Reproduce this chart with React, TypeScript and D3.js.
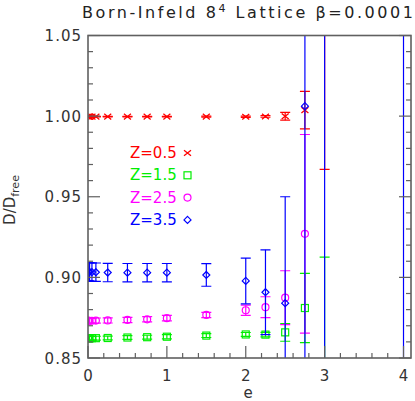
import React from 'react';
import * as d3 from 'd3';

// e values and D/Dfree per Z (null = not drawn)
const eVals = [0, 0.01, 0.02, 0.05, 0.1, 0.25, 0.5, 0.75, 1, 1.5, 2, 2.25, 2.5, 2.75, 3, 4];

const z05 = [0.9997, 0.9997, 0.9997, 0.9997, 0.9997, 0.9997, 0.9997, 0.9997, 0.9997, 0.9997, 0.9996, 0.9998, 0.9999, 1.0037, 1.08, null];
const z05err = [0.0002, 0.0002, 0.0002, 0.0002, 0.0002, 0.0002, 0.0002, 0.0002, 0.0002, 0.0003, 0.0004, 0.0005, 0.0024, 0.0116, 0.113, null];

const z15 = [0.8622, 0.8622, 0.8622, 0.8623, 0.8623, 0.8624, 0.8627, 0.8629, 0.8632, 0.8639, 0.8646, 0.8645, 0.8659, 0.8810, 0.83, null];
const z15err = [0.0012, 0.0012, 0.0012, 0.0012, 0.0012, 0.0012, 0.0012, 0.0012, 0.0013, 0.0012, 0.0012, 0.0014, 0.0055, 0.0215, 0.0826, null];

const z25 = [0.8731, 0.8731, 0.8731, 0.8731, 0.8732, 0.8733, 0.8736, 0.8740, 0.8747, 0.8767, 0.8796, 0.8815, 0.8874, 0.9270, null, null];
const z25err = [0.0016, 0.0016, 0.0016, 0.0016, 0.0016, 0.0016, 0.0016, 0.0016, 0.0017, 0.0016, 0.0032, 0.0065, 0.0167, 0.0616, null, null];

const z35 = [0.9035, 0.9035, 0.9034, 0.9033, 0.9032, 0.9030, 0.9029, 0.9029, 0.9029, 0.9015, 0.8978, 0.8908, 0.8840, 1.0062, 0.80, 0.75];
const z35err = [0.0057, 0.0057, 0.0057, 0.0057, 0.0057, 0.0057, 0.0057, 0.0057, 0.0057, 0.0070, 0.0142, 0.0263, 0.0660, 0.30, 0.40, 0.60];

const zLabels = ['Z=0.5', 'Z=1.5', 'Z=2.5', 'Z=3.5'];
const zColors = ['#ff0000', '#00ee00', '#ff00ff', '#0000ff'];
const zMarkers = ['cross', 'square', 'circle', 'diamond'];

const yTicks = [0.85, 0.9, 0.95, 1.0, 1.05];
const xTicks = [0, 1, 2, 3, 4];

const W = 415;
const H = 401;
const margin = { top: 35.5, right: 4, bottom: 43, left: 88 };

function Marker({ kind, x, y, color }: { kind: string; x: number; y: number; color: string }) {
  const s = 3.5;
  if (kind === 'cross') {
    return (
      <path d={`M${x - s},${y - s * 0.8}L${x + s},${y + s * 0.8}M${x - s},${y + s * 0.8}L${x + s},${y - s * 0.8}`}
            stroke={color} strokeWidth={1.3} fill="none" />
    );
  }
  if (kind === 'square') {
    return <rect x={x - s} y={y - s} width={2 * s} height={2 * s} stroke={color} strokeWidth={1.2} fill="none" />;
  }
  if (kind === 'circle') {
    return <circle cx={x} cy={y} r={s} stroke={color} strokeWidth={1.2} fill="none" />;
  }
  return (
    <path d={`M${x},${y - s}L${x + s},${y}L${x},${y + s}L${x - s},${y}Z`}
          stroke={color} strokeWidth={1.2} fill="none" />
  );
}

export default function App() {
  const x = d3.scaleLinear().domain([0, 4.095]).range([margin.left, W - margin.right]);
  const y = d3.scaleLinear().domain([0.85, 1.05]).range([H - margin.bottom, margin.top]);

  const x0 = x.range()[0], x1 = x.range()[1];
  const y0 = y.range()[0], y1 = y.range()[1];

  const series = [
    { v: z05, err: z05err },
    { v: z15, err: z15err },
    { v: z25, err: z25err },
    { v: z35, err: z35err },
  ];

  const xMinor = d3.range(0, 4.09, 0.2);
  const yMinor = d3.range(0.85, 1.0501, 0.01);
  const font = '"DejaVu Sans", sans-serif';
  const axisColor = '#606060';
  const capW = 5;

  return (
    <svg width={W} height={H} style={{ position: 'absolute', left: 0, top: 0, background: '#fff' }}>
      <defs>
        <clipPath id="plot">
          <rect x={x0} y={y1} width={x1 - x0} height={y0 - y1} />
        </clipPath>
      </defs>

      {/* title */}
      <text x={82} y={18} fontFamily={font} fontSize={16} fill="#222" textLength={331} lengthAdjust="spacing">
        Born-Infeld 8<tspan dy={-6} fontSize={11}>4</tspan><tspan dy={6}> Lattice β=0.0001</tspan>
      </text>

      {/* data */}
      <g clipPath="url(#plot)">
        {series.map((s, si) =>
          eVals.map((e, i) => {
            const v = s.v[i];
            const er = s.err[i];
            if (v == null || er == null) return null;
            const px = x(e);
            const top = y(v + er), bot = y(v - er);
            return (
              <g key={si + '-' + i}>
                <line x1={px} x2={px} y1={top} y2={bot} stroke={zColors[si]} strokeWidth={1.2} />
                <line x1={px - capW} x2={px + capW} y1={top} y2={top} stroke={zColors[si]} strokeWidth={1.2} />
                <line x1={px - capW} x2={px + capW} y1={bot} y2={bot} stroke={zColors[si]} strokeWidth={1.2} />
                <Marker kind={zMarkers[si]} x={px} y={y(v)} color={zColors[si]} />
              </g>
            );
          })
        )}
      </g>

      {/* ticks */}
      {xMinor.map((t, i) => {
        const major = Math.abs(t - Math.round(t)) < 1e-6;
        return <line key={'xm' + i} x1={x(t)} x2={x(t)} y1={y0} y2={y0 - (major ? 12 : 5)} stroke={axisColor} strokeWidth={1.2} />;
      })}
      {yMinor.map((t, i) => {
        const major = Math.abs(t * 20 - Math.round(t * 20)) < 1e-6;
        const len = major ? 12 : 5;
        return (
          <g key={'ym' + i}>
            <line x1={x0} x2={x0 + len} y1={y(t)} y2={y(t)} stroke={axisColor} strokeWidth={1.2} />
            <line x1={x1} x2={x1 - len} y1={y(t)} y2={y(t)} stroke={axisColor} strokeWidth={1.2} />
          </g>
        );
      })}

      {/* frame */}
      <rect x={x0} y={y1} width={x1 - x0} height={y0 - y1} fill="none" stroke={axisColor} strokeWidth={1.6} />

      {/* tick labels */}
      {yTicks.map(t => (
        <text key={'yl' + t} x={82} y={y(t) + 5.5} textAnchor="end" fontFamily={font} fontSize={15}
              fill="#333" letterSpacing={1}>
          {d3.format('.2f')(t)}
        </text>
      ))}
      {xTicks.map(t => (
        <text key={'xl' + t} x={x(t)} y={381} textAnchor="middle" fontFamily={font} fontSize={15} fill="#333">
          {t}
        </text>
      ))}

      {/* axis titles */}
      <text x={248} y={398} textAnchor="middle" fontFamily={font} fontSize={15} fill="#333">e</text>
      <text transform="translate(15,200) rotate(-90)" textAnchor="middle" fontFamily={font} fontSize={15} fill="#333">
        D/D<tspan dy={4} fontSize={11}>free</tspan>
      </text>

      {/* legend */}
      {zLabels.map((lab, i) => (
        <g key={lab}>
          <text x={130} y={153 + i * 22.3 + 5} fontFamily={font} fontSize={15} fill={zColors[i]}>{lab}</text>
          <Marker kind={zMarkers[i]} x={187.5} y={153 + i * 22.3} color={zColors[i]} />
        </g>
      ))}
    </svg>
  );
}
